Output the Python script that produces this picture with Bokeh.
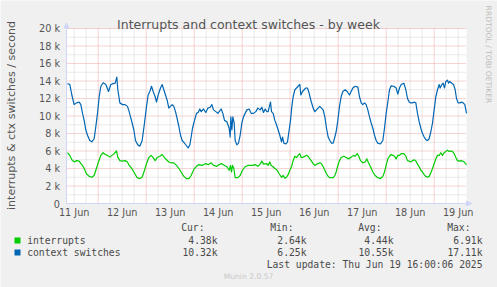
import pandas as pd
from math import pi
from bokeh.plotting import figure
from bokeh.models import Range1d, Label, BoxAnnotation, Arrow, NormalHead
from bokeh.core.properties import value
from bokeh.embed import file_html
from bokeh.resources import INLINE

# ---------------- data ----------------
title_text = "Interrupts and context switches - by week"
y_label_text = "interrupts & ctx switches / second"
series_names = ["interrupts", "context switches"]
series_colors = ["#00CC00", "#0066B3"]
day_labels = ["11 Jun", "12 Jun", "13 Jun", "14 Jun", "15 Jun", "16 Jun", "17 Jun", "18 Jun", "19 Jun"]
day_dates = ["2025-06-11", "2025-06-12", "2025-06-13", "2025-06-14", "2025-06-15",
             "2025-06-16", "2025-06-17", "2025-06-18", "2025-06-19"]
y_tick_values = [0, 2000, 4000, 6000, 8000, 10000, 12000, 14000, 16000, 18000, 20000]
y_tick_labels = ["0", "2 k", "4 k", "6 k", "8 k", "10 k", "12 k", "14 k", "16 k", "18 k", "20 k"]
stat_headers = ["Cur:", "Min:", "Avg:", "Max:"]
irq_stats = ["4.38k", "2.64k", "4.44k", "6.91k"]
ctx_stats = ["10.32k", "6.25k", "10.55k", "17.11k"]
last_update = "Last update: Thu Jun 19 16:00:06 2025"
version_text = "Munin 2.0.57"
watermark_text = "RRDTOOL / TOBI OETIKER"

sample_base = "2025-06-11 08:40"   # hour 0 of the samples below
view_start = "2025-06-11 08:10"
view_hours = 200
y_max = 20000

# (hours since sample_base, thousands per second)
irq_samples = [
    (0.0, 5.8), (1.17, 5.5), (2.17, 5.0), (3.33, 4.75), (4.5, 4.9), (5.83, 4.85), (6.67, 4.55), (7.5, 4.35),
    (8.33, 4.0), (9.5, 3.4), (10.83, 3.1), (12.17, 3.0), (13.33, 3.2), (14.17, 3.8), (15.5, 4.75), (16.67, 5.5),
    (17.83, 5.8), (18.83, 5.6), (20.0, 5.5), (21.17, 5.3), (22.17, 5.5), (23.33, 5.7), (24.5, 6.0), (25.17, 5.3),
    (26.17, 4.9), (27.5, 4.85), (28.83, 4.9), (30.0, 4.75), (30.83, 4.35), (32.17, 4.0), (33.17, 3.6), (34.83, 2.95),
    (36.17, 2.85), (37.33, 3.0), (38.5, 3.8), (39.5, 4.55), (40.67, 5.25), (41.83, 5.5), (42.83, 5.25), (43.83, 4.9),
    (44.83, 5.25), (46.17, 5.4), (47.33, 5.6), (48.5, 5.25), (49.5, 5.0), (50.67, 4.75), (51.83, 4.65), (53.17, 4.65),
    (54.5, 4.35), (55.67, 4.0), (56.83, 3.6), (58.17, 3.1), (59.5, 2.85), (60.67, 2.85), (61.83, 3.2), (63.17, 3.9),
    (64.5, 4.25), (65.67, 4.45), (67.17, 4.35), (68.83, 4.55), (70.5, 4.45), (71.83, 4.65), (73.0, 4.35), (74.67, 4.25),
    (75.83, 4.45), (77.17, 4.55), (78.5, 4.35), (79.67, 4.2), (80.83, 3.8), (81.5, 4.35), (82.0, 3.6), (82.5, 4.35),
    (83.17, 4.0), (83.83, 2.95), (85.17, 2.95), (86.33, 3.2), (87.5, 3.8), (88.83, 4.2), (90.17, 4.35), (91.33, 4.35),
    (92.5, 4.35), (93.83, 4.45), (95.17, 4.25), (96.33, 4.5), (97.17, 4.85), (98.0, 4.5), (99.67, 4.55), (100.33, 4.35),
    (101.17, 4.75), (101.83, 4.35), (102.83, 4.2), (103.67, 4.0), (104.83, 3.8), (105.83, 3.4), (107.0, 3.0), (107.83, 3.2),
    (108.67, 2.9), (109.5, 3.0), (110.33, 3.3), (111.17, 3.8), (112.0, 4.2), (112.83, 4.9), (113.67, 5.4), (114.5, 5.25),
    (115.33, 5.5), (116.17, 5.7), (116.83, 5.25), (117.83, 5.3), (118.67, 5.4), (119.5, 5.5), (120.33, 5.4), (121.17, 5.1),
    (122.0, 4.85), (122.83, 4.55), (123.67, 4.35), (124.5, 4.5), (125.33, 4.55), (126.17, 4.65), (127.0, 4.55), (127.83, 4.2),
    (128.67, 3.8), (129.5, 3.4), (130.33, 3.1), (131.17, 2.95), (132.0, 2.95), (132.83, 2.95), (133.67, 3.2), (134.33, 3.6),
    (135.17, 4.35), (136.0, 4.9), (136.83, 5.25), (138.17, 5.4), (139.33, 5.25), (140.5, 5.1), (141.83, 5.3), (143.0, 5.5),
    (143.83, 5.4), (144.83, 5.7), (145.67, 5.4), (146.5, 4.9), (147.67, 4.65), (148.83, 4.75), (149.67, 5.1), (150.5, 4.65),
    (151.5, 4.2), (152.67, 3.6), (153.83, 3.2), (155.17, 2.95), (156.5, 2.85), (157.67, 3.1), (158.5, 3.6), (159.33, 4.35),
    (160.17, 5.1), (161.0, 5.4), (161.83, 5.6), (162.67, 5.5), (163.5, 5.4), (164.33, 5.1), (165.17, 5.5), (166.0, 5.5),
    (166.83, 5.7), (168.17, 5.7), (169.17, 5.4), (170.0, 4.9), (170.83, 4.85), (171.67, 4.75), (172.5, 4.9), (173.33, 5.0),
    (174.17, 4.85), (175.0, 4.5), (175.83, 4.2), (176.67, 3.8), (177.5, 3.6), (178.33, 3.3), (179.17, 3.1), (180.0, 3.0),
    (180.83, 3.1), (181.67, 3.5), (182.5, 4.0), (183.33, 4.55), (184.17, 5.1), (185.0, 5.5), (185.83, 5.5), (186.67, 5.8),
    (187.5, 5.5), (188.33, 5.8), (189.17, 5.95), (190.0, 6.1), (190.83, 5.95), (191.67, 6.0), (192.5, 5.95), (193.33, 5.7),
    (194.17, 5.25), (195.0, 4.9), (195.83, 4.85), (196.67, 4.9), (197.5, 4.85), (198.33, 4.75), (199.5, 4.4),
]

ctx_samples = [
    (0.0, 13.7), (1.17, 13.6), (2.17, 12.4), (3.33, 11.3), (4.5, 11.5), (5.83, 11.6), (6.67, 11.3), (7.5, 10.3),
    (8.33, 9.5), (9.17, 8.4), (10.0, 7.8), (11.17, 7.2), (12.17, 7.05), (13.33, 7.4), (14.17, 8.8), (15.0, 10.3),
    (15.83, 12.2), (16.67, 13.4), (17.83, 13.8), (19.17, 13.6), (20.5, 12.8), (21.67, 13.6), (22.83, 13.7), (23.83, 13.75),
    (24.67, 14.45), (25.17, 13.0), (26.17, 11.5), (27.5, 11.3), (28.83, 11.3), (30.0, 11.1), (30.83, 10.5), (31.5, 9.9),
    (32.33, 9.2), (33.17, 8.4), (34.0, 7.2), (35.17, 6.7), (36.17, 6.55), (37.33, 7.2), (38.5, 9.2), (39.5, 11.1),
    (40.33, 12.4), (41.17, 12.8), (42.0, 13.4), (42.83, 12.8), (43.83, 12.2), (44.5, 11.6), (45.33, 12.4), (46.5, 13.2),
    (47.33, 13.6), (48.17, 13.0), (49.0, 12.4), (49.83, 11.8), (50.67, 10.9), (51.5, 11.1), (52.33, 11.3), (53.17, 11.1),
    (54.0, 10.5), (54.83, 9.7), (55.67, 8.8), (56.5, 7.8), (57.33, 7.2), (58.5, 6.9), (59.5, 6.6), (60.33, 6.35),
    (61.17, 6.7), (61.83, 7.6), (62.5, 8.6), (63.5, 9.5), (64.5, 10.3), (65.33, 10.4), (66.17, 10.8), (66.83, 10.5),
    (68.0, 10.8), (69.17, 10.4), (70.17, 10.9), (71.33, 11.0), (72.17, 11.3), (73.0, 10.7), (74.17, 10.5), (75.17, 10.3),
    (75.83, 10.5), (76.83, 10.8), (77.67, 10.3), (78.5, 9.5), (79.67, 9.35), (80.83, 8.6), (81.33, 7.6), (81.67, 9.9),
    (82.17, 8.4), (82.67, 9.9), (83.33, 9.2), (83.83, 7.2), (84.67, 6.7), (85.5, 6.9), (86.33, 7.8), (87.17, 9.2),
    (88.0, 9.9), (88.83, 10.3), (89.67, 10.7), (90.83, 10.8), (91.83, 10.3), (93.0, 10.3), (94.17, 10.5), (95.17, 10.9),
    (96.33, 10.7), (97.17, 11.0), (98.0, 10.4), (98.83, 10.8), (99.67, 10.5), (100.33, 10.5), (101.17, 11.3), (101.5, 11.6),
    (102.0, 10.5), (102.83, 10.3), (103.67, 9.5), (104.5, 9.0), (105.33, 8.4), (106.17, 7.8), (107.0, 7.05), (107.5, 7.6),
    (108.17, 6.9), (109.17, 6.8), (110.0, 7.05), (110.83, 8.4), (111.5, 9.5), (112.17, 11.1), (112.83, 12.2), (113.67, 13.0),
    (114.5, 13.2), (115.33, 13.4), (116.17, 13.6), (116.67, 12.4), (117.5, 12.8), (118.33, 13.0), (119.17, 13.2), (120.0, 13.2),
    (120.83, 12.6), (121.67, 11.8), (122.83, 10.9), (123.67, 10.5), (124.5, 10.7), (125.33, 10.9), (126.17, 11.1), (127.0, 10.9),
    (127.83, 10.7), (128.67, 9.9), (129.5, 8.6), (130.33, 7.6), (131.17, 7.2), (132.0, 6.9), (132.83, 6.9), (133.67, 7.6),
    (134.33, 8.2), (135.17, 9.5), (136.0, 11.1), (136.83, 12.2), (137.67, 12.8), (138.83, 13.0), (139.83, 12.8), (141.0, 12.4),
    (141.83, 12.8), (142.67, 13.2), (143.83, 13.4), (145.17, 13.3), (146.0, 12.2), (146.83, 11.5), (147.67, 11.3), (148.5, 11.5),
    (149.33, 11.3), (150.17, 10.7), (151.0, 9.9), (151.83, 9.2), (152.67, 8.6), (153.5, 7.8), (154.33, 7.2), (155.17, 6.9),
    (156.5, 6.8), (157.67, 7.2), (158.5, 8.6), (159.33, 10.3), (160.17, 11.6), (161.0, 13.0), (161.83, 13.45), (163.17, 13.4),
    (164.33, 13.2), (165.17, 12.5), (166.0, 13.2), (166.83, 13.6), (168.17, 13.75), (169.17, 13.0), (170.0, 12.0), (170.83, 11.6),
    (171.67, 11.5), (172.5, 11.5), (173.33, 11.6), (174.17, 11.5), (175.0, 10.3), (175.83, 9.35), (176.67, 8.6), (177.5, 8.0),
    (178.33, 7.6), (179.17, 7.3), (180.0, 7.2), (180.83, 7.4), (181.67, 8.2), (182.5, 9.2), (183.33, 10.7), (184.17, 12.2),
    (185.0, 13.0), (185.83, 13.6), (186.33, 13.2), (187.17, 13.6), (187.83, 13.75), (188.5, 13.2), (189.17, 13.95), (190.0, 14.1),
    (190.5, 13.75), (191.17, 13.95), (192.17, 13.75), (193.0, 13.6), (193.83, 13.0), (194.5, 12.0), (195.33, 11.5), (196.17, 11.5),
    (197.0, 11.6), (197.83, 11.5), (198.67, 11.3), (199.5, 10.3),
]

# ---------------- helpers ----------------
HOUR_MS = 3600 * 1000


def to_ms(ts):
    return int(pd.Timestamp(ts).value // 10**6)


base_ms = to_ms(sample_base)
start_ms = to_ms(view_start)
end_ms = start_ms + view_hours * HOUR_MS


def series_xy(samples):
    xs = [base_ms + h * HOUR_MS for h, _ in samples]
    ys = [v * 1000 for _, v in samples]
    return xs, ys


# ---------------- layout / style ----------------
W, H = 497, 287
CL, CT, CW, CH = 66, 28, 400, 175        # chart area inside the canvas (pixels)
CB = CT + CH
MS_PER_PX = (end_ms - start_ms) / CW
V_PER_PX = y_max / CH

FONT = "DejaVu Sans"
MONO = "DejaVu Sans Mono"
TXT = "#555555"
LEG_TXT = "#4a4a4a"
AXIS_COL = "#CFD6F8"
BG = "#F0F0F0"
MAJ = "#EFA8A8"
MIN = "#D4D4D4"

# the figure's frame is the whole canvas; the chart area maps to [start_ms, end_ms] x [0, y_max]
p = figure(width=W, height=H,
           x_range=Range1d(start_ms - CL * MS_PER_PX, end_ms + (W - CL - CW) * MS_PER_PX),
           y_range=Range1d(-(H - CB) * V_PER_PX, y_max + CT * V_PER_PX),
           output_backend="svg", toolbar_location=None, title=None,
           x_axis_location=None, y_axis_location=None,
           min_border_left=0, min_border_right=0, min_border_top=0, min_border_bottom=0,
           background_fill_color=BG, border_fill_color=BG, outline_line_color=None)
p.grid.visible = False

# white canvas of the chart
p.quad(left=[start_ms], right=[end_ms], bottom=[0], top=[y_max], fill_color="white", line_color=None)

# ---- grid ----
midnights = [to_ms(d + " 00:00") for d in day_dates[1:]]
six_hours = []
t = to_ms(day_dates[0] + " 12:00")
while t < end_ms:
    if t not in midnights:
        six_hours.append(t)
    t += 6 * HOUR_MS
y_minor = [v + 1000 for v in y_tick_values[:-1]]
y_major = y_tick_values[1:]

p.segment(x0=six_hours, x1=six_hours, y0=[0] * len(six_hours), y1=[y_max] * len(six_hours),
          line_color=MIN, line_dash="1 1", line_width=1)
p.segment(x0=[start_ms] * len(y_minor), x1=[end_ms] * len(y_minor), y0=y_minor, y1=y_minor,
          line_color=MIN, line_dash="1 1", line_width=1)
p.segment(x0=midnights, x1=midnights, y0=[0] * len(midnights), y1=[y_max] * len(midnights),
          line_color=MAJ, line_dash="1 1", line_width=1)
p.segment(x0=[start_ms] * len(y_major), x1=[end_ms] * len(y_major), y0=y_major, y1=y_major,
          line_color=MAJ, line_dash="1 1", line_width=1)

# ---- series ----
for samples, color in zip([irq_samples, ctx_samples], series_colors):
    xs, ys = series_xy(samples)
    p.line(xs, ys, line_color=color, line_width=1.2, line_join="round")

# ---- axes with arrows ----
p.add_layout(Arrow(x_start=start_ms, y_start=0, x_end=start_ms, y_end=y_max + 5.5 * V_PER_PX,
                   line_color=AXIS_COL, line_width=1,
                   end=NormalHead(size=5, fill_color=AXIS_COL, line_color=AXIS_COL)))
p.add_layout(Arrow(x_start=start_ms, y_start=0, x_end=end_ms + 5 * MS_PER_PX, y_end=0,
                   line_color=AXIS_COL, line_width=1,
                   end=NormalHead(size=5, fill_color=AXIS_COL, line_color=AXIS_COL)))

# tick labels
noon_ticks = [to_ms(d + " 12:00") for d in day_dates]
p.text(x=noon_ticks, y=[-3.5 * V_PER_PX] * len(noon_ticks), text=day_labels,
       text_font=value(FONT), text_font_size=value("9.7px"), text_color=TXT,
       text_align="center", text_baseline="top")
p.text(x=[start_ms - 6.5 * MS_PER_PX] * len(y_tick_values), y=y_tick_values, text=y_tick_labels,
       text_font=value(FONT), text_font_size=value("9.7px"), text_color=TXT,
       text_align="right", text_baseline="middle")


def label(cx, cy, text, size, color=LEG_TXT, font=MONO, align="left", baseline="middle", angle=0.0):
    p.add_layout(Label(x=cx, y=H - cy, x_units="screen", y_units="screen",
                       text=text, text_font=font, text_font_size=size, text_color=color,
                       text_align=align, text_baseline=baseline, angle=angle))


# title, axis label, watermark
label(248, 24, title_text, "12.5px", color=TXT, font=FONT, align="center", baseline="alphabetic")
label(10.5, 115, y_label_text, "11.1px", color=TXT, font=FONT, align="center", angle=pi / 2)
label(487.5, 54, watermark_text, "7.6px", color="#BDBDBD", font=FONT, align="center", angle=-pi / 2)

# legend block
row_y = [240, 252]
for name, color, cy in zip(series_names, series_colors, row_y):
    p.add_layout(BoxAnnotation(left=14, right=20, top=H - (cy - 3), bottom=H - (cy + 3),
                               left_units="screen", right_units="screen",
                               top_units="screen", bottom_units="screen",
                               fill_color=color, fill_alpha=1.0, line_color=None))
    label(26.7, cy, name, "9.7px")

header_right = [204, 293, 381, 470]
value_right = [217, 306, 393, 482]
for hdr, cx in zip(stat_headers, header_right):
    label(cx, 227.3, hdr, "9.7px", align="right")
for stats, cy in zip([irq_stats, ctx_stats], row_y):
    for val, cx in zip(stats, value_right):
        label(cx, cy, val, "9.7px", align="right")
label(482, 263.5, last_update, "9.7px", align="right")
label(248, 276, version_text, "7.6px", color="#C8C8C8", font=FONT, align="center")

open("out.html", "w").write(file_html(p, INLINE))
